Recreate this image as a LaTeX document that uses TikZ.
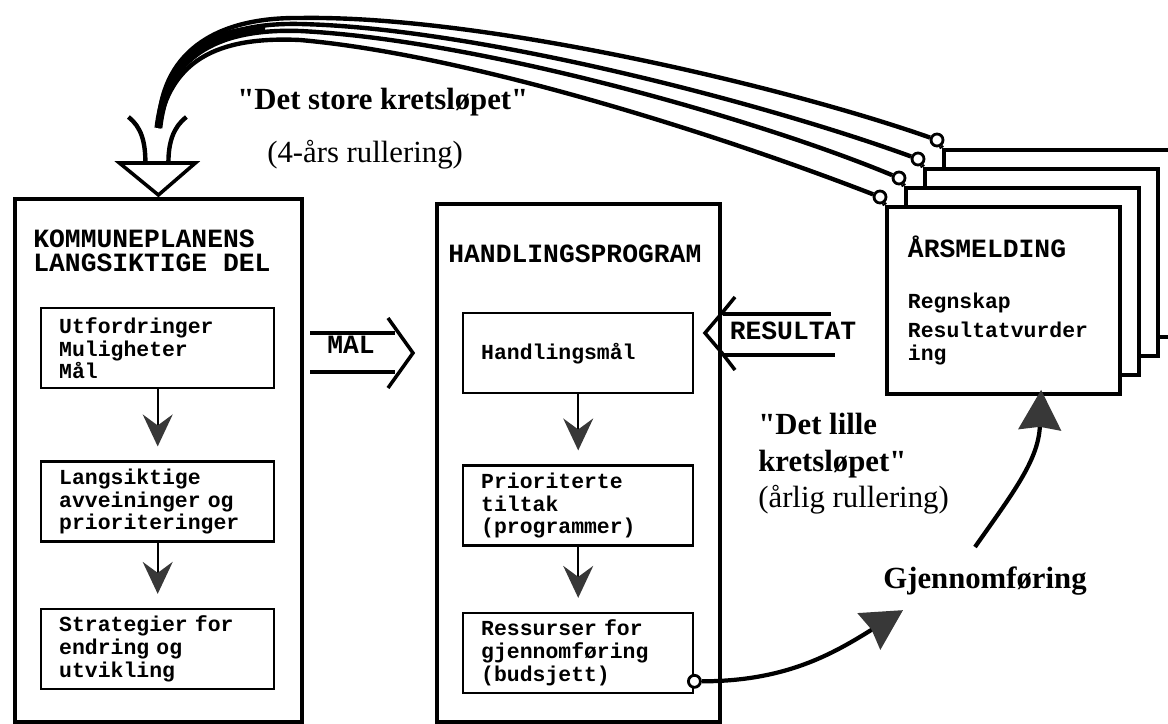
\documentclass[tikz,border=0pt]{standalone}
\usepackage{fontspec}
\setmainfont{Liberation Serif}
\setmonofont{Liberation Mono}
\usetikzlibrary{positioning,arrows.meta,calc}
\definecolor{headgray}{HTML}{383838}
\protected\def\monowide{\spaceskip=0.6em\relax}

\begin{document}
\begin{tikzpicture}[
  x=0.02cm, y=-0.02cm,
  >=Stealth,
  bigbox/.style={draw, line width=2.2pt, anchor=north west, inner sep=0pt},
  inbox/.style={draw, line width=1.4pt, align=left, inner xsep=0.36cm, inner ysep=0pt, minimum height=1.6cm, font=\ttfamily\bfseries\fontsize{12.2}{13}\selectfont\monowide},
  ttl/.style={align=left, inner sep=0pt, anchor=north west, font=\ttfamily\bfseries\fontsize{15}{13.5}\selectfont\monowide},
  flowtxt/.style={inner sep=0pt, font=\ttfamily\bfseries\fontsize{15}{15}\selectfont},
  arsbox/.style={draw, line width=2.2pt, fill=white, anchor=north west, minimum width=4.66cm, minimum height=3.74cm},
  ring/.style={circle, draw, line width=1.6pt, fill=white, minimum size=0.24cm, inner sep=0pt},
  looplabel/.style={inner sep=0pt, font=\fontsize{17.5}{20.7}\selectfont},
  boldlabel/.style={inner sep=0pt, font=\bfseries\fontsize{17.5}{20.7}\selectfont},
  steparrow/.style={-{Stealth[length=0.64cm, width=0.6cm, inset=0.22cm, color=headgray]}, line width=1.1pt, shorten >=0.28cm},
  bigarrow/.style={-{Stealth[length=0.8cm, width=0.85cm, inset=0.06cm, color=headgray]}, line width=2.4pt},
  loopline/.style={line width=2.5pt},
  dblline/.style={line width=2.4pt}
]
  \useasboundingbox (0,0) rectangle (1168,723);
  \clip (0,0) rectangle (1168,723);

  \node[bigbox, minimum width=5.74cm, minimum height=10.46cm] (kpl) at (13,197) {};
  \node[bigbox, minimum width=5.66cm, minimum height=10.36cm] (hp) at (435,202) {};
  \node[ttl] (kplt) at (33,230) {KOMMUNEPLANENS\\LANGSIKTIGE DEL};
  \node[ttl] (hpt) at (448,245) {HANDLINGSPROGRAM};

  \node[inbox, text width=3.94cm, anchor=north west] (ka) at (40,307) {Utfordringer\\Muligheter\\Mål};
  \node[inbox, text width=3.94cm, below=1.42cm of ka] (kb) {Langsiktige\\avveininger og\\prioriteringer};
  \node[inbox, text width=3.94cm, below=1.3cm of kb] (kc) {Strategier for\\endring og\\utvikling};
  \node[inbox, text width=3.88cm, anchor=north west] (ha) at (462,312) {Handlingsmål};
  \node[inbox, text width=3.88cm, below=1.4cm of ha] (hb) {Prioriterte\\tiltak\\(programmer)};
  \node[inbox, text width=3.88cm, below=1.3cm of hb] (hc) {Ressurser for\\gjennomføring\\(budsjett)};
  \draw[steparrow] (ka) -- (kb);
  \draw[steparrow] (kb) -- (kc);
  \draw[steparrow] (ha) -- (hb);
  \draw[steparrow] (hb) -- (hc);

  \node[flowtxt] (mal) at (351,345) {MAL};
  \draw[dblline] ($(mal)+(-41,-12)$) -- ++(85,0);
  \draw[dblline] ($(mal)+(-41,27)$) -- ++(85,0);
  \draw[line width=2pt] ($(mal)+(37,-27)$) -- ($(mal)+(62,8)$) -- ($(mal)+(37,43)$);

  \node[flowtxt] (res) at (793,331) {RESULTAT};
  \draw[dblline] ($(res)+(-70,-17)$) -- ++(108,0);
  \draw[dblline] ($(res)+(-70,24)$) -- ++(112,0);
  \draw[line width=2pt] ($(res)+(-58,-34)$) -- ($(res)+(-71,-18)$) -- ($(res)+(-88,2)$) -- ($(res)+(-71,22)$) -- ($(res)+(-58,39)$);

  \node[arsbox] (ars4) at (942,148) {};
  \node[arsbox] (ars3) at (923,167) {};
  \node[arsbox] (ars2) at (904,186) {};
  \node[arsbox, align=left, text width=3.82cm, inner xsep=0.42cm, font=\ttfamily\bfseries\fontsize{12.2}{13}\selectfont] (ars) at (885,205)
    {{\fontsize{15}{15}\selectfont ÅRSMELDING}\\[16pt]Regnskap\\[4pt]Resultatvurder\\ing};
  \node[ring] (r1) at ($(ars.north west)+(-5,-8)$) {};
  \node[ring] (r2) at ($(ars2.north west)+(-5,-8)$) {};
  \node[ring] (r3) at ($(ars3.north west)+(-5,-8)$) {};
  \node[ring] (r4) at ($(ars4.north west)+(-5,-8)$) {};
  \draw[loopline] (r1) -- (ars.north west);
  \draw[loopline] (r2) -- (ars2.north west);
  \draw[loopline] (r3) -- (ars3.north west);
  \draw[loopline] (r4) -- (ars4.north west);

  \coordinate (bigin) at ($(kpl.north)+(0,-69)$);
  \draw[loopline] (r1) .. controls (720,135) and (470,55) .. (300,40) .. controls (215,36) and (170,62) .. (bigin);
  \draw[loopline] (r2) .. controls (760,120) and (480,40) .. (300,31) .. controls (212,28) and (167,60) .. (bigin);
  \draw[loopline] (r3) .. controls (770,105) and (480,28) .. (300,24) .. controls (212,22) and (164,58) .. (bigin);
  \draw[loopline] (r4) .. controls (780,85) and (480,15) .. (300,18) .. controls (212,17) and (160,55) .. (bigin);
  \draw[line width=4.5pt] (265,30) .. controls (205,29) and (166,62) .. (bigin);
  \draw[line width=2pt, fill=white] ($(kpl.north)+(-39,-34)$) -- ($(kpl.north)+(37,-34)$) -- ($(kpl.north)+(0,-2)$) -- cycle;
  \draw[loopline] ($(kpl.north)+(-13,-34)$) .. controls ($(kpl.north)+(-13,-55)$) and ($(kpl.north)+(-17,-70)$) .. ($(kpl.north)+(-30,-80)$);
  \draw[loopline] ($(kpl.north)+(10,-34)$) .. controls ($(kpl.north)+(10,-55)$) and ($(kpl.north)+(15,-70)$) .. ($(kpl.north)+(28,-80)$);

  \node[boldlabel, anchor=base west] (store) at (237,110) {\textquotedbl Det store kretsløpet\textquotedbl};
  \node[looplabel, anchor=base west] (storeroll) at (267,162) {(4-års rullering)};
  \node[looplabel, anchor=north west, align=left] (lille) at (758,413) {\textbf{\textquotedbl Det lille}\\\textbf{kretsløpet\textquotedbl}\\(årlig rullering)};
  \node[boldlabel, anchor=base west] (gj) at (883,588) {Gjennomføring};

  \node[ring] (rc) at ($(hc.south east)+(0,-13)$) {};
  \draw[bigarrow] (rc) to[out=0, in=212] ([xshift=0.4cm, yshift=-0.3cm]gj.south west);
  \draw[bigarrow, shorten >=-0.12cm] ([xshift=-0.2cm, yshift=0.38cm]gj.north) to[out=55, in=268] ([xshift=0.75cm]ars.south);
\end{tikzpicture}
\end{document}
